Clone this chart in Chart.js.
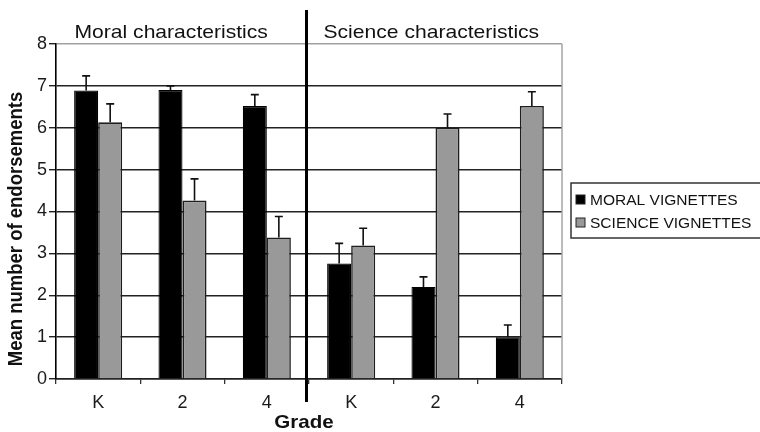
<!DOCTYPE html>
<html><head><meta charset="utf-8">
<script src="https://cdn.jsdelivr.net/npm/chart.js@4.4.1/dist/chart.umd.min.js"></script>
<style>html,body{margin:0;padding:0;background:#fff;} #wrap{width:760px;height:432px;}</style>
</head><body><div id="wrap"><canvas id="c" width="760" height="432"></canvas></div>
<script>
const categories = ['K', '2', '4', 'K', '2', '4'];
const sectionTitles = ['Moral characteristics', 'Science characteristics'];
const seriesNames = ['MORAL VIGNETTES', 'SCIENCE VIGNETTES'];
const moralMeans = [6.89, 6.90, 6.52, 2.76, 2.20, 1.00];
const moralErrors = [0.35, 0.10, 0.27, 0.48, 0.24, 0.29];
const scienceMeans = [6.13, 4.26, 3.38, 3.19, 6.00, 6.52];
const scienceErrors = [0.44, 0.52, 0.50, 0.41, 0.33, 0.34];
const yMin = 0, yMax = 8, yStep = 1;
const sectionSize = 3;
const xTitle = 'Grade';
const yTitle = 'Mean number of endorsements';

const FONT = '"Liberation Sans", Arial, Helvetica, sans-serif';
const SX = 1.11;

function stretchedText(ctx, text, x, y, align) {
  ctx.save();
  ctx.translate(x, y);
  ctx.scale(SX, 1);
  ctx.textAlign = align;
  ctx.fillText(text, 0, 0);
  ctx.restore();
}

const errorBarPlugin = {
  id: 'errorBars',
  afterDatasetsDraw(chart) {
    const ctx = chart.ctx;
    const y = chart.scales.y;
    chart.data.datasets.forEach((ds, i) => {
      const meta = chart.getDatasetMeta(i);
      meta.data.forEach((el, j) => {
        const top = y.getPixelForValue(ds.data[j] + ds.errors[j]);
        ctx.save();
        ctx.strokeStyle = '#111';
        ctx.lineWidth = 1.6;
        ctx.beginPath();
        ctx.moveTo(el.x, el.y);
        ctx.lineTo(el.x, top);
        ctx.moveTo(el.x - 4, top);
        ctx.lineTo(el.x + 4, top);
        ctx.stroke();
        ctx.restore();
      });
    });
  }
};

const decorPlugin = {
  id: 'decor',
  beforeDatasetsDraw(chart) {
    const ctx = chart.ctx, a = chart.chartArea;
    ctx.save();
    ctx.strokeStyle = '#a5a5a5';
    ctx.lineWidth = 1.5;
    ctx.beginPath();
    ctx.moveTo(a.right, a.top);
    ctx.lineTo(a.right, a.bottom);
    ctx.stroke();
    ctx.restore();
  },
  afterDraw(chart) {
    const ctx = chart.ctx, a = chart.chartArea, xs = chart.scales.x;
    const divX = (xs.getPixelForValue(sectionSize - 1) + xs.getPixelForValue(sectionSize)) / 2 - 2.5;
    ctx.save();
    // divider
    ctx.strokeStyle = '#000';
    ctx.lineWidth = 3;
    ctx.beginPath();
    ctx.moveTo(divX, a.top - 34);
    ctx.lineTo(divX, a.bottom + 23);
    ctx.stroke();
    // section titles
    ctx.fillStyle = '#111';
    ctx.font = '19px ' + FONT;
    ctx.textBaseline = 'alphabetic';
    stretchedText(ctx, sectionTitles[0], a.left + 18.5, a.top - 6, 'left');
    stretchedText(ctx, sectionTitles[1], divX + 17, a.top - 6, 'left');
    // axis titles
    ctx.font = 'bold 18.5px ' + FONT;
    stretchedText(ctx, xTitle, (a.left + a.right) / 2 - 5, a.bottom + 49, 'center');
    ctx.save();
    ctx.translate(16, a.bottom - 150);
    ctx.scale(SX, 1);
    ctx.rotate(-Math.PI / 2);
    ctx.textAlign = 'center';
    ctx.textBaseline = 'middle';
    ctx.fillText(yTitle, 0, 0);
    ctx.restore();
    // legend
    const lx = a.right + 9, ly = 183;
    ctx.strokeStyle = '#333';
    ctx.lineWidth = 1.5;
    ctx.strokeRect(lx, ly, 220, 55);
    ctx.font = '14px ' + FONT;
    chart.data.datasets.forEach((ds, i) => {
      const ry = ly + 12 + i * 23;
      ctx.fillStyle = ds.backgroundColor;
      ctx.fillRect(lx + 5, ry, 9, 9);
      ctx.strokeStyle = '#222';
      ctx.lineWidth = 1;
      ctx.strokeRect(lx + 5, ry, 9, 9);
      ctx.fillStyle = '#111';
      ctx.textBaseline = 'alphabetic';
      stretchedText(ctx, ds.label, lx + 19, ry + 10, 'left');
    });
    ctx.restore();
  }
};

new Chart(document.getElementById('c'), {
  type: 'bar',
  data: {
    labels: categories,
    datasets: [
      { label: seriesNames[0], data: moralMeans, errors: moralErrors,
        backgroundColor: '#000000', borderColor: '#000000', borderWidth: 1.2,
        categoryPercentage: 0.57, barPercentage: 1.0 },
      { label: seriesNames[1], data: scienceMeans, errors: scienceErrors,
        backgroundColor: '#999999', borderColor: '#1e1e1e', borderWidth: 1.6,
        categoryPercentage: 0.57, barPercentage: 1.0 }
    ]
  },
  options: {
    responsive: false,
    animation: false,
    devicePixelRatio: 1,
    layout: { padding: { left: 0, top: 44, right: 198, bottom: 0 } },
    plugins: { legend: { display: false }, tooltip: { enabled: false } },
    scales: {
      x: {
        afterFit(s) { s.height = 53; },
        grid: { drawOnChartArea: false, drawTicks: true, tickLength: 5, tickColor: '#333', lineWidth: 1.3 },
        border: { color: '#222', width: 1.6 },
        ticks: { color: '#1a1a1a', font: { family: FONT, size: 18 }, padding: 8 }
      },
      y: {
        min: yMin, max: yMax,
        afterFit(s) { s.width = 56; },
        grid: {
          color: (c) => (c.tick && c.tick.value === yMax) ? '#a0a0a0' : '#222',
          lineWidth: 1.4, tickLength: 7, tickColor: '#222'
        },
        border: { color: '#000', width: 1.6 },
        ticks: { stepSize: yStep, color: '#1a1a1a', font: { family: FONT, size: 18 }, padding: 2 }
      }
    }
  },
  plugins: [errorBarPlugin, decorPlugin]
});
</script>
</body></html>
